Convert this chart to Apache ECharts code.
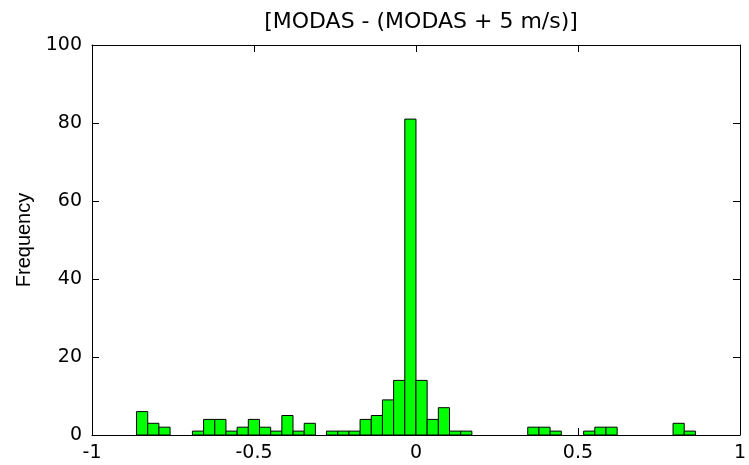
<!DOCTYPE html>
<html>
<head>
<meta charset="utf-8">
<title>[MODAS - (MODAS + 5 m/s)]</title>
<script src="https://cdn.jsdelivr.net/npm/echarts@6/dist/echarts.min.js"></script>
<style>
  html, body { margin: 0; padding: 0; background: #fff; }
  #chart { width: 749px; height: 465px; }
</style>
</head>
<body>
<div id="chart"></div>
<script>
// Histogram of differences: 50 equal-width bins spanning the data range
const binStart = -0.8625;
const binWidth = 0.0345;
const binCounts = [
  6, 3, 2, 0, 0, 1, 4, 4, 1, 2,
  4, 2, 1, 5, 1, 3, 0, 1, 1, 1,
  4, 5, 9, 14, 81, 14, 4, 7, 1, 1,
  0, 0, 0, 0, 0, 2, 2, 1, 0, 0,
  1, 2, 2, 0, 0, 0, 0, 0, 3, 1
];
const xTicks = [-1, -0.5, 0, 0.5, 1];
const yTicks = [0, 20, 40, 60, 80, 100];
const titleText = '[MODAS - (MODAS + 5 m/s)]';
const yName = 'Frequency';

// [lowerEdge, upperEdge, count] for each non-empty bin
const bins = [];
binCounts.forEach((n, i) => {
  if (n > 0) {
    const lo = binStart + i * binWidth;
    bins.push([lo, lo + binWidth, n]);
  }
});

const tickFont = { fontFamily: 'DejaVu Sans', fontSize: 19, color: '#000' };
// box-style axes: every side keeps its own edge instead of snapping to zero
const axisLine = { show: true, onZero: false, lineStyle: { color: '#000', width: 1 } };
const tickIn = { show: true, inside: true, length: 7, lineStyle: { color: '#000', width: 1 } };
const xStep = xTicks[1] - xTicks[0];
const yStep = yTicks[1] - yTicks[0];

const chart = echarts.init(document.getElementById('chart'), null, { renderer: 'canvas' });
chart.setOption({
  backgroundColor: '#fff',
  animation: false,
  grid: { left: 92, top: 45, width: 660, height: 390, containLabel: false },
  graphic: [{
    type: 'text',
    x: 421,
    y: 22,
    style: {
      text: titleText,
      fontFamily: 'DejaVu Sans',
      fontSize: 22,
      fill: '#000',
      textAlign: 'center',
      textVerticalAlign: 'middle'
    }
  }],
  xAxis: [{
    type: 'value',
    position: 'bottom',
    min: xTicks[0],
    max: xTicks[xTicks.length - 1],
    interval: xStep,
    axisLine: axisLine,
    axisTick: tickIn,
    axisLabel: Object.assign({ margin: 9, showMinLabel: true, showMaxLabel: true }, tickFont),
    splitLine: { show: false }
  }, {
    type: 'value',
    position: 'top',
    min: xTicks[0],
    max: xTicks[xTicks.length - 1],
    interval: xStep,
    axisLine: axisLine,
    axisTick: tickIn,
    axisLabel: { show: false },
    splitLine: { show: false }
  }],
  yAxis: [{
    type: 'value',
    position: 'left',
    min: yTicks[0],
    max: yTicks[yTicks.length - 1],
    interval: yStep,
    name: yName,
    nameLocation: 'middle',
    nameRotate: 90,
    nameGap: 56,
    nameTextStyle: { fontFamily: 'Liberation Sans', fontSize: 20, color: '#000' },
    axisLine: axisLine,
    axisTick: tickIn,
    axisLabel: Object.assign({ margin: 10 }, tickFont),
    splitLine: { show: false }
  }, {
    type: 'value',
    position: 'right',
    min: yTicks[0],
    max: yTicks[yTicks.length - 1],
    interval: yStep,
    axisLine: axisLine,
    axisTick: tickIn,
    axisLabel: { show: false },
    splitLine: { show: false }
  }],
  series: [{
    type: 'custom',
    xAxisIndex: 0,
    yAxisIndex: 0,
    data: bins,
    encode: { x: [0, 1], y: 2 },
    renderItem: function (params, api) {
      const topLeft = api.coord([api.value(0), api.value(2)]);
      const bottomRight = api.coord([api.value(1), 0]);
      return {
        type: 'rect',
        shape: {
          x: topLeft[0],
          y: topLeft[1],
          width: bottomRight[0] - topLeft[0],
          height: bottomRight[1] - topLeft[1]
        },
        style: { fill: '#00ff00', stroke: '#000', lineWidth: 1 }
      };
    }
  }]
});
</script>
</body>
</html>
